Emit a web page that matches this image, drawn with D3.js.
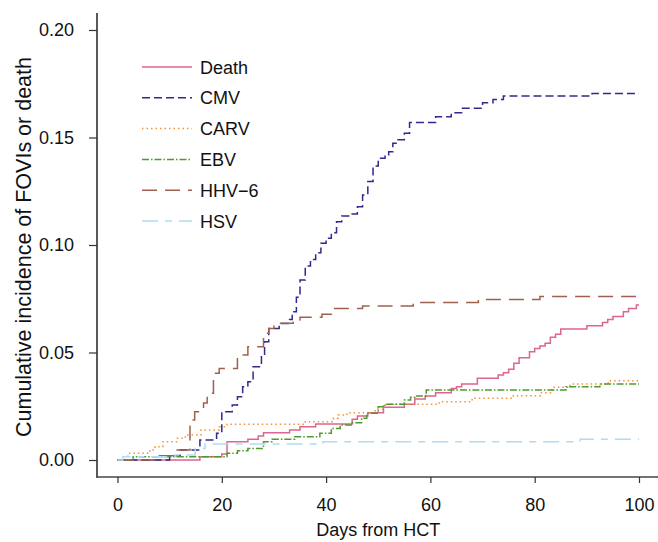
<!DOCTYPE html>
<html>
<head>
<meta charset="utf-8">
<script src="https://cdn.jsdelivr.net/npm/d3@7"></script>
<style>
  body { margin: 0; background: #fff; }
  svg { display: block; font-family: "Liberation Sans", Arial, sans-serif; }
</style>
</head>
<body>
<svg id="chart" width="658" height="542"></svg>
<script>
// step points: [day, cumulative incidence]
const death = [[0,0],[15.8,0.0015],[20,0.0028],[21,0.0085],[25,0.0096],[27,0.0112],[28,0.0127],[33,0.014],[35,0.0155],[38,0.0167],[45,0.0189],[46,0.0205],[48,0.022],[51,0.0245],[55,0.0259],[57,0.0284],[59,0.0298],[61,0.0313],[64,0.0333],[65,0.0341],[66,0.0353],[69,0.038],[73,0.0395],[74,0.0406],[75,0.0422],[76,0.045],[77,0.0476],[79,0.0504],[80,0.0519],[81,0.053],[82,0.0543],[83,0.0571],[84,0.0585],[85,0.0609],[90,0.0625],[93,0.0639],[94,0.0654],[95,0.0667],[97,0.069],[98,0.0705],[99.5,0.0721]];
const cmv = [[0,0],[10,0.002],[12,0.0047],[15.8,0.0093],[19,0.0124],[20,0.0225],[22,0.0256],[23,0.0294],[24,0.0341],[25,0.0364],[26,0.0434],[27.6,0.0488],[28.2,0.055],[29,0.0612],[31,0.0635],[33,0.0654],[33.5,0.069],[34.3,0.0757],[35,0.0837],[36,0.0902],[37,0.0933],[38,0.0964],[39,0.1008],[40,0.1031],[41,0.1057],[42,0.1108],[43,0.1135],[45,0.1144],[46,0.1178],[47,0.1233],[48,0.1295],[49,0.1367],[50,0.1403],[51.3,0.1419],[52,0.1434],[52.8,0.1473],[53.8,0.149],[55,0.152],[56,0.157],[61,0.1597],[64,0.1615],[66,0.1636],[70,0.1662],[72,0.1677],[74,0.1693],[91,0.1705]];
const carv = [[0,0],[2,0.0031],[6.2,0.0047],[7.2,0.0062],[8.7,0.0085],[11.3,0.0101],[13,0.0116],[16,0.014],[19.5,0.0155],[21,0.0166],[36,0.0178],[41.4,0.0194],[42.3,0.0209],[44,0.022],[49.4,0.0236],[51,0.0259],[61.7,0.0271],[68,0.0287],[75.9,0.0299],[81.1,0.0313],[83.3,0.0338],[86.8,0.0353],[94.1,0.0369]];
const ebv = [[0,0],[3,0.0015],[21,0.0031],[23,0.0043],[25,0.0054],[28,0.0085],[29.6,0.0096],[34,0.0108],[38.8,0.0124],[41,0.0147],[42.7,0.0163],[45,0.0173],[46.8,0.0194],[47.8,0.0217],[50,0.0248],[51.3,0.0259],[55,0.0279],[56.2,0.0292],[57,0.0298],[59.2,0.0326],[86,0.0341],[92.5,0.0353]];
const hhv6 = [[0,0],[8,0.002],[11,0.0047],[13.9,0.0186],[14.8,0.0225],[16.5,0.0265],[17.2,0.031],[18.4,0.0403],[19.5,0.0426],[23,0.0488],[25,0.0527],[28,0.0589],[29,0.0612],[30,0.0628],[31,0.0636],[33.7,0.0651],[35,0.0664],[39.2,0.0678],[41,0.0705],[47,0.0716],[56.7,0.0732],[69.2,0.0747],[81,0.076]];
const hsv = [[0,0],[1,0.0015],[11,0.0023],[14.9,0.0054],[16.8,0.0074],[39.4,0.0085],[88.7,0.0096]];

const seriesNames = ["Death", "CMV", "CARV", "EBV", "HHV\u22126", "HSV"];
const seriesData = [death, cmv, carv, ebv, hhv6, hsv];
const xTicks = [0, 20, 40, 60, 80, 100];
const yTicks = [0, 0.05, 0.10, 0.15, 0.20];
const maxDay = 100;

const colors = ["#dc6690", "#2f2a8c", "#f39237", "#4f9a2c", "#a0604f", "#aedcf4"];
const dashes = [null, "8,4", "1.5,3", "7,2,1.5,2", "15,8", "16,7,7,7"];

const svg = d3.select("#chart");
const axisX = 97, axisY = 477;

const x = d3.scaleLinear().domain([0, 100]).range([117.5, 639]);
const y = d3.scaleLinear().domain([0, 0.2]).range([460, 30]);

// axis lines
svg.append("line")
    .attr("x1", axisX).attr("x2", axisX)
    .attr("y1", 13).attr("y2", axisY + 0.7)
    .attr("stroke", "#222").attr("stroke-width", 1.5);
svg.append("line")
    .attr("x1", axisX - 0.7).attr("x2", 658)
    .attr("y1", axisY).attr("y2", axisY)
    .attr("stroke", "#444").attr("stroke-width", 1.5);

const yAxis = svg.append("g")
    .attr("transform", `translate(${axisX},0)`)
    .call(d3.axisLeft(y).tickValues(yTicks).tickFormat(d3.format(".2f")).tickSize(8).tickPadding(15));
const xAxis = svg.append("g")
    .attr("transform", `translate(0,${axisY})`)
    .call(d3.axisBottom(x).tickValues(xTicks).tickSize(6).tickPadding(15));

[yAxis, xAxis].forEach(g => {
    g.select(".domain").remove();
    g.selectAll(".tick line").attr("stroke", "#333").attr("stroke-width", 1.2);
    g.selectAll(".tick text").attr("font-size", 18).attr("fill", "#111")
        .attr("font-family", "Liberation Sans, Arial, sans-serif");
});

svg.append("text")
    .attr("transform", `translate(31,${(13 + axisY) / 2 + 2}) rotate(-90)`)
    .attr("text-anchor", "middle")
    .attr("font-size", 21.5)
    .attr("fill", "#111")
    .text("Cumulative incidence of FOVIs or death");

svg.append("text")
    .attr("x", (x(0) + x(100)) / 2)
    .attr("y", 536)
    .attr("text-anchor", "middle")
    .attr("font-size", 18)
    .attr("fill", "#111")
    .text("Days from HCT");

const line = d3.line()
    .x(d => x(d[0]))
    .y(d => y(d[1]))
    .curve(d3.curveStepAfter);

seriesData.forEach((s, i) => {
    const pts = s.concat([[maxDay, s[s.length - 1][1]]]);
    svg.append("path")
        .datum(pts)
        .attr("d", line)
        .attr("fill", "none")
        .attr("stroke", colors[i])
        .attr("stroke-width", 1.5)
        .attr("stroke-dasharray", dashes[i]);
});

// legend
const legend = svg.append("g");
seriesNames.forEach((name, i) => {
    const ly = 67 + i * 30.8;
    legend.append("line")
        .attr("x1", 142).attr("x2", 192)
        .attr("y1", ly).attr("y2", ly)
        .attr("stroke", colors[i])
        .attr("stroke-width", 1.5)
        .attr("stroke-dasharray", dashes[i]);
    legend.append("text")
        .attr("x", 200).attr("y", ly + 6.5)
        .attr("font-size", 18)
        .attr("fill", "#111")
        .text(name);
});
</script>
</body>
</html>
